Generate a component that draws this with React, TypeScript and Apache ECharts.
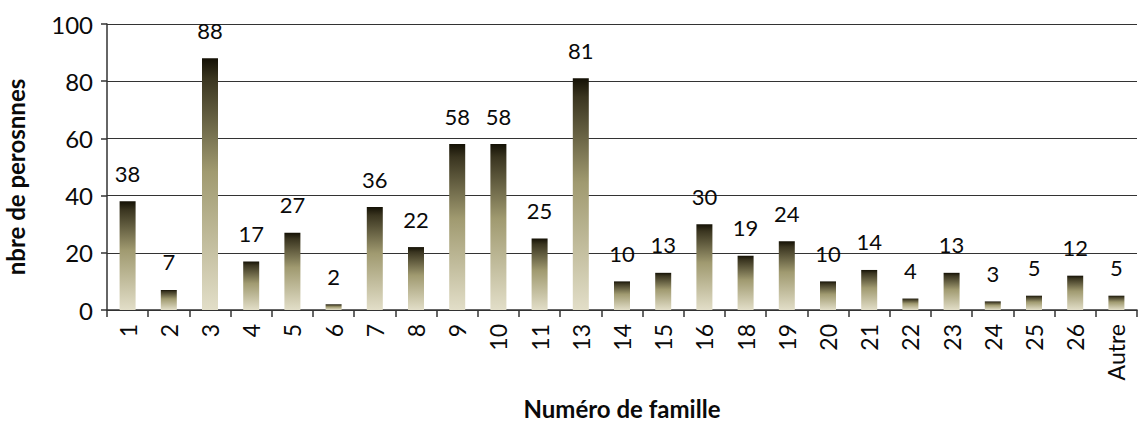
import React, { useEffect, useRef } from "react";
import * as echarts from "echarts";

const categories = ["1","2","3","4","5","6","7","8","9","10","11","13","14","15","16","18","19","20","21","22","23","24","25","26","Autre"];
const values = [38,7,88,17,27,2,36,22,58,58,25,81,10,13,30,19,24,10,14,4,13,3,5,12,5];
const yTicks = [0, 20, 40, 60, 80, 100];

const FONT = "Lato, 'Open Sans', sans-serif";

export default function App() {
  const ref = useRef<HTMLDivElement>(null);
  useEffect(() => {
    const chart = echarts.init(ref.current!, null, { renderer: "svg" });
    chart.setOption({
      animation: false,
      backgroundColor: "#ffffff",
      grid: { left: 107, right: 3, top: 24, bottom: 114, containLabel: false, outerBoundsMode: "none" },
      xAxis: {
        type: "category",
        data: categories,
        name: "Numéro de famille",
        nameLocation: "middle",
        nameGap: 86,
        nameTextStyle: { fontFamily: FONT, fontSize: 24, fontWeight: "bold", color: "#0a0a0a" },
        axisLine: { lineStyle: { color: "#333", width: 1.5 } },
        axisTick: { show: true, length: 7, lineStyle: { color: "#333", width: 1.5 } },
        axisLabel: { rotate: 90, fontFamily: FONT, fontSize: 23, color: "#0a0a0a", margin: 14 },
      },
      yAxis: {
        type: "value",
        min: yTicks[0],
        max: yTicks[yTicks.length - 1],
        interval: 20,
        name: "nbre de perosnnes",
        nameLocation: "middle",
        nameGap: 80,
        nameTextStyle: { fontFamily: FONT, fontSize: 24, fontWeight: "bold", color: "#0a0a0a", padding: [0, 20, 0, 0] },
        axisLine: { show: true, lineStyle: { color: "#333", width: 1.5 } },
        axisTick: { show: true, length: 6, lineStyle: { color: "#333", width: 1.5 } },
        axisLabel: { fontFamily: FONT, fontSize: 24, color: "#0a0a0a", margin: 14 },
        splitLine: { lineStyle: { color: "#333", width: 1.2 } },
      },
      series: [
        {
          type: "bar",
          data: values,
          barWidth: 16,
          itemStyle: {
            color: new echarts.graphic.LinearGradient(0, 0, 0, 1, [
              { offset: 0, color: "#141105" },
              { offset: 0.08, color: "#3a3520" },
              { offset: 0.45, color: "#a09a70" },
              { offset: 1, color: "#e2dec8" },
            ]),
          },
          label: {
            show: true,
            position: "top",
            distance: 17,
            fontFamily: FONT,
            fontSize: 22,
            color: "#0a0a0a",
          },
        },
      ],
    });
    return () => chart.dispose();
  }, []);
  return <div ref={ref} style={{ position: "fixed", left: 0, top: 0, width: 1140, height: 424 }} />;
}
